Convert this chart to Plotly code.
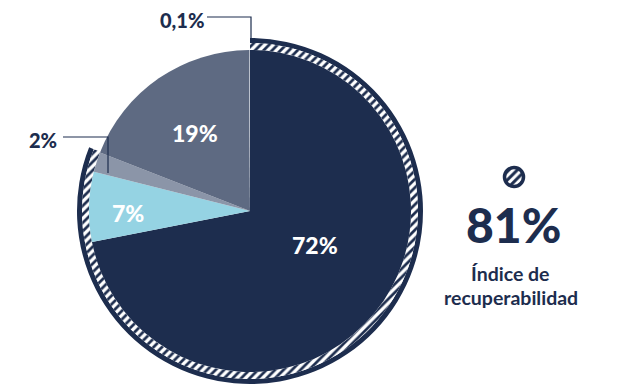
import plotly.graph_objects as go

W, H = 617, 389

# ---- data ----
slice_names = ["A", "B", "C", "D", "E"]
slice_values = [72, 7, 2, 19, 0.1]
slice_labels = ["72%", "7%", "2%", "19%", "0,1%"]
slice_colors = ["#1d2d4e", "#95d3e3", "#8b95a8", "#5e6a82", "#b4bbc8"]

ring_values = [81, 19]          # recoverable share vs rest
headline_value = "81%"
headline_label = ["Índice de", "recuperabilidad"]

DARK = "#1d2d4e"
FONT = "Lato"


def dom(cx, cy, r):
    return dict(x=[(cx - r) / W, (cx + r) / W], y=[1 - (cy + r) / H, 1 - (cy - r) / H])


def px(x, y):
    return x / W, 1 - y / H


cx, cy, R = 250, 211, 161

fig = go.Figure()

# outer dark ring
fig.add_trace(go.Pie(
    values=ring_values, sort=False, direction="clockwise", rotation=0,
    hole=168 / 173, domain=dom(cx, cy, 173),
    marker=dict(colors=[DARK, "rgba(0,0,0,0)"], line=dict(width=0)),
    textinfo="none", hoverinfo="skip", showlegend=False))

# hatched ring
fig.add_trace(go.Pie(
    values=ring_values, sort=False, direction="clockwise", rotation=0,
    hole=R / 168, domain=dom(cx, cy, 168),
    marker=dict(colors=["white", "rgba(0,0,0,0)"], line=dict(width=0),
                pattern=dict(shape=["/", ""], fgcolor=DARK, bgcolor="white",
                             size=6, solidity=0.45)),
    textinfo="none", hoverinfo="skip", showlegend=False))

# main pie
fig.add_trace(go.Pie(
    labels=slice_names, values=slice_values, sort=False, direction="clockwise",
    rotation=0, domain=dom(cx, cy, R),
    marker=dict(colors=slice_colors, line=dict(width=0)),
    textinfo="none", hoverinfo="skip", showlegend=False))

# icon (hatched circle)
fig.add_trace(go.Pie(
    values=[1], sort=False, domain=dom(514, 177, 9.5),
    marker=dict(colors=["white"], line=dict(color=DARK, width=3.5),
                pattern=dict(shape=["/"], fgcolor=DARK, bgcolor="white",
                             size=6, solidity=0.5)),
    textinfo="none", hoverinfo="skip", showlegend=False))

annotations = []


def add_text(text, x, y, size, color, weight=700):
    ax, ay = px(x, y)
    annotations.append(dict(x=ax, y=ay, xref="paper", yref="paper", text=text,
                            showarrow=False, xanchor="center", yanchor="middle",
                            font=dict(family=FONT, size=size, color=color, weight=weight)))


add_text(slice_labels[0], 315, 245, 23, "white", 900)
add_text(slice_labels[1], 128, 213, 23, "white", 900)
add_text(slice_labels[3], 195, 133, 23, "white", 900)
add_text(slice_labels[2], 43, 140, 20, DARK, 900)
add_text(slice_labels[4], 182, 20, 20, DARK, 900)

add_text(headline_value, 513, 224, 48, DARK, 900)
add_text(headline_label[0], 510, 273, 19.5, DARK)
add_text(headline_label[1], 511, 297, 19.5, DARK)


def path(points):
    parts = []
    for i, (x, y) in enumerate(points):
        a, b = px(x, y)
        parts.append(("M" if i == 0 else "L") + f"{a:.5f},{b:.5f}")
    return " ".join(parts)


shapes = [
    dict(type="path", xref="paper", yref="paper",
         path=path([(207, 17), (251, 17), (251, 43)]),
         line=dict(color=DARK, width=1.2)),
    dict(type="path", xref="paper", yref="paper",
         path=path([(63, 137), (108, 137), (108, 173)]),
         line=dict(color=DARK, width=1.2)),
]

fig.update_layout(
    width=W, height=H, margin=dict(l=0, r=0, t=0, b=0),
    paper_bgcolor="white", plot_bgcolor="white",
    annotations=annotations, shapes=shapes, showlegend=False)

fig.write_html("out.html")
